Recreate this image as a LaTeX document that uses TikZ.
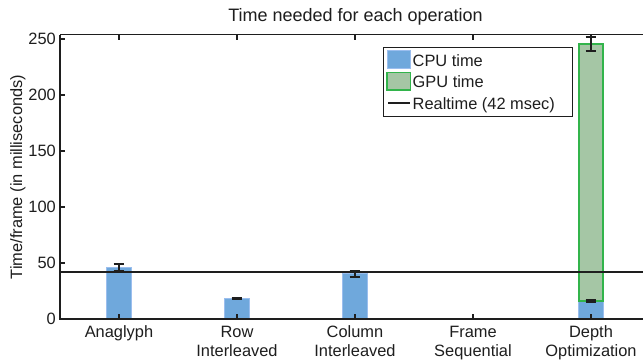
\documentclass[tikz,border=0pt]{standalone}
\usepackage{fontspec}
\setmainfont{Liberation Sans}
\definecolor{cpufill}{RGB}{111,168,220}
\definecolor{cpuedge}{RGB}{155,190,238}
\definecolor{gpufill}{RGB}{165,198,165}
\definecolor{gpuedge}{RGB}{50,180,75}
\definecolor{ink}{RGB}{30,30,30}
\tikzset{
  lbl/.style={font=\fontsize{16.4}{19}\selectfont, inner sep=0pt, text=ink},
  ttl/.style={font=\fontsize{18}{21}\selectfont, inner sep=0pt, text=ink},
  cpubar/.style={fill=cpufill, draw=cpuedge, line width=1pt},
  gpubar/.style={fill=gpufill, draw=gpuedge, line width=1.2pt},
  errbar/.style={draw=ink, line width=2pt},
  axisline/.style={draw=ink, line width=1.4pt},
  rtline/.style={draw=ink, line width=2pt},
}
\newcommand\errorbarx[3]{%
  \draw[errbar] (#1-0.045,#2-#3) -- (#1+0.045,#2-#3)
                (#1,#2-#3) -- (#1,#2+#3)
                (#1-0.045,#2+#3) -- (#1+0.045,#2+#3);}
\begin{document}
\begin{tikzpicture}[x=1pt,y=1pt]
\useasboundingbox (0,0) rectangle (643,360);
\fill[white] (0,0) rectangle (643,360);
\begin{scope}[x=118pt,y=1.12pt,shift={(1pt,41pt)}]
  % bars
  \draw[cpubar] (0.898,0) rectangle (1.102,46);
  \draw[cpubar] (1.898,0) rectangle (2.102,18.3);
  \draw[cpubar] (2.898,0) rectangle (3.102,40.5);
  \draw[cpubar] (4.898,0) rectangle (5.102,16);
  \draw[gpubar] (4.898,16) rectangle (5.102,245.5);
  % realtime line
  \draw[rtline] (0.5,42) -- (5.4407,42);
  % axes
  \draw[axisline] (0.5,254) -- (0.5,0) -- (5.4407,0);
  \draw[axisline] (0.5,254) -- (5.4407,254);
  \foreach \v in {0,50,...,250}{
    \draw[axisline] (0.5,\v) -- ++(5pt,0);
    \node[lbl, anchor=east] (yt\v) at ([xshift=-4pt]0.5,\v) {\v};
  }
  \foreach \i in {1,...,5}{
    \draw[axisline] (\i,254) -- ++(0,-5pt);
    \draw[axisline] (\i,0) -- ++(0,5pt);
  }
  % error bars
  \errorbarx{1}{46}{3}
  \errorbarx{2}{18.3}{0.8}
  \errorbarx{3}{40.5}{2.7}
  \draw[errbar] (3.955,0) -- (4.045,0);
  \errorbarx{5}{16}{0.7}
  \errorbarx{5}{245.5}{6}
\end{scope}
% title and y label
\node[ttl, anchor=base] (title) at (355.5,338.5) {Time needed for each operation};
\node[lbl, anchor=base, rotate=90] (ylab) at (22,183) {Time/frame (in milliseconds)};
% category labels
\node[lbl, anchor=base] (c1a) at (119,23) {Anaglyph};
\node[lbl, anchor=base] (c2a) at (237,23) {Row};
\node[lbl, anchor=base] (c2b) at (237,4) {Interleaved};
\node[lbl, anchor=base] (c3a) at (355,23) {Column};
\node[lbl, anchor=base] (c3b) at (355,4) {Interleaved};
\node[lbl, anchor=base] (c4a) at (473,23) {Frame};
\node[lbl, anchor=base] (c4b) at (473,4) {Sequential};
\node[lbl, anchor=base] (c5a) at (591,23) {Depth};
\node[lbl, anchor=base] (c5b) at (591,4) {Optimization};
% legend
\draw[fill=white, draw=ink, line width=0.8pt] (383,312.7) rectangle (572.3,244);
\draw[cpubar] (387,309.3) rectangle (410.7,291.7);
\draw[gpubar] (387,287.3) rectangle (410.7,270);
\draw[rtline] (388,257.3) -- (410,257.3);
\node[lbl, anchor=base west] (lg1) at (412.5,293.3) {CPU time};
\node[lbl, anchor=base west] (lg2) at (412.5,272.3) {GPU time};
\node[lbl, anchor=base west] (lg3) at (412.5,250.7) {Realtime (42 msec)};
\end{tikzpicture}
\end{document}
